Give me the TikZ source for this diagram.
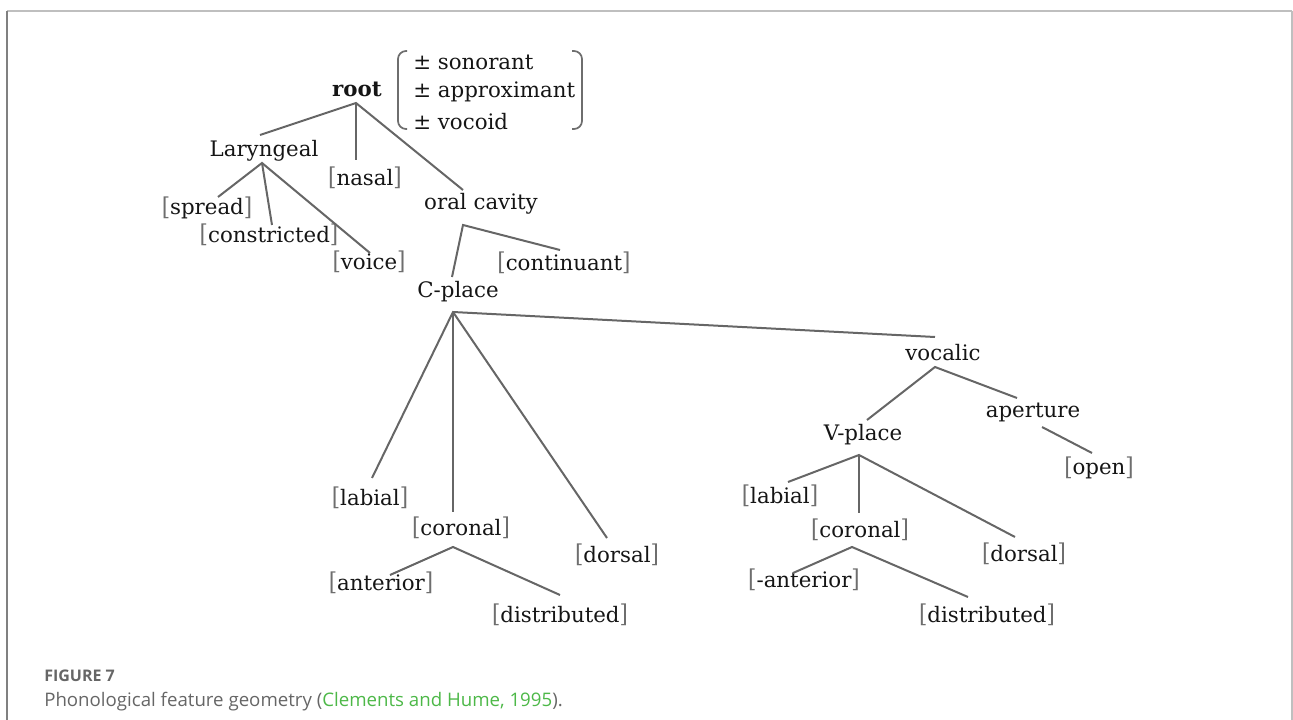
\documentclass[tikz,border=0pt]{standalone}
\usepackage{fontspec}
\setmainfont{DejaVu Serif}
\newfontfamily\capfont{Open Sans}
\definecolor{brk}{HTML}{6E6E6E}
\definecolor{txt}{HTML}{151515}
\definecolor{edge}{HTML}{666666}
\definecolor{capgray}{HTML}{666666}
\definecolor{capgreen}{HTML}{4DB848}
\newcommand{\bk}[1]{{\color{brk}\raisebox{-0.5pt}{\scalebox{1}[1.15]{[}}}#1{\color{brk}\raisebox{-0.5pt}{\scalebox{1}[1.15]{]}}}}
\begin{document}
\begin{tikzpicture}[x=0.75pt,y=-0.75pt,
  lbl/.style={inner sep=0pt, text=txt, font=\fontsize{16}{18}\selectfont},
  edg/.style={draw=edge, line width=1.5pt}]
\useasboundingbox (0,0) rectangle (1293,720);
% frame
\draw[line width=1.2pt, draw=black!25] (7,11) -- (1292,11);
\draw[line width=1.2pt, draw=black!50] (7,11) -- (7,720);
\draw[line width=1.2pt, draw=black!25] (1292,11) -- (1292,720);
% nodes
\node[lbl] (root) at (357,89) {\textbf{root}};
\node[lbl, anchor=west] (f1) at (413,62) {± sonorant};
\node[lbl, anchor=west] (f2) at (413,92) {± approximant};
\node[lbl, anchor=west] (f3) at (413,122) {± vocoid};
\draw[draw=brk, line width=1.3pt, rounded corners=6pt] (407,51) -- (398,51) -- (398,129) -- (407,129);
\draw[draw=brk, line width=1.3pt, rounded corners=6pt] (572,51) -- (582,51) -- (582,129) -- (572,129);
\node[lbl] (lar) at (264,151) {Laryngeal};
\node[lbl] (nas) at (365,178) {\bk{nasal}};
\node[lbl] (oral) at (481,204) {oral cavity};
\node[lbl] (spr) at (207,208) {\bk{spread}};
\node[lbl] (con) at (269,235) {\bk{constricted}};
\node[lbl] (voi) at (369,262) {\bk{voice}};
\node[lbl] (cont) at (564,263) {\bk{continuant}};
\node[lbl] (cpl) at (458,292) {C-place};
\node[lbl] (voc) at (943,353) {vocalic};
\node[lbl] (ape) at (1033,412) {aperture};
\node[lbl] (vpl) at (863,435) {V-place};
\node[lbl] (open) at (1099,468) {\bk{open}};
\node[lbl] (lab1) at (370,498) {\bk{labial}};
\node[lbl] (cor1) at (461,528) {\bk{coronal}};
\node[lbl] (dor1) at (617,555) {\bk{dorsal}};
\node[lbl] (ant1) at (381,583) {\bk{anterior}};
\node[lbl] (dis1) at (560,615) {\bk{distributed}};
\node[lbl] (lab2) at (780,496) {\bk{labial}};
\node[lbl] (cor2) at (860,530) {\bk{coronal}};
\node[lbl] (dor2) at (1024,554) {\bk{dorsal}};
\node[lbl] (ant2) at (804,580) {\bk{-anterior}};
\node[lbl] (dis2) at (987,615) {\bk{distributed}};
% branch points
\coordinate (rA) at (356,103);
\coordinate (lA) at (262,163);
\coordinate (oA) at (463,225);
\coordinate (cA) at (453,312);
\coordinate (k1A) at (453,547);
\coordinate (vA) at (935,367);
\coordinate (vpA) at (859,455);
\coordinate (k2A) at (852,547);
% edges
\draw[edg] (260,135) -- (rA) -- (463,190);
\draw[edg] (rA) -- (356,160);
\draw[edg] (218,197) -- (lA) -- (370,253);
\draw[edg] (lA) -- (272,225);
\draw[edg] (452,277) -- (oA) -- (560,250);
\draw[edg] (372,478) -- (cA) -- (935,337);
\draw[edg] (cA) -- (453,512);
\draw[edg] (cA) -- (607,538);
\draw[edg] (390,575) -- (k1A) -- (560,595);
\draw[edg] (867,420) -- (vA) -- (1017,398);
\draw[edg] (1042,427) -- (1092,453);
\draw[edg] (788,482) -- (vpA) -- (1015,537);
\draw[edg] (vpA) -- (859,513);
\draw[edg] (793,573) -- (k2A) -- (968,597);
% caption
\node[anchor=west, inner sep=0pt, text=capgray, font=\capfont\bfseries\fontsize{12}{14}\selectfont] (figno) at (44,676) {FIGURE 7};
\node[anchor=west, inner sep=0pt, text=capgray, font=\capfont\fontsize{14}{17}\selectfont] (cap) at (44,702) {Phonological feature geometry ({\color{capgreen}Clements and Hume, 1995}).};
\end{tikzpicture}
\end{document}
